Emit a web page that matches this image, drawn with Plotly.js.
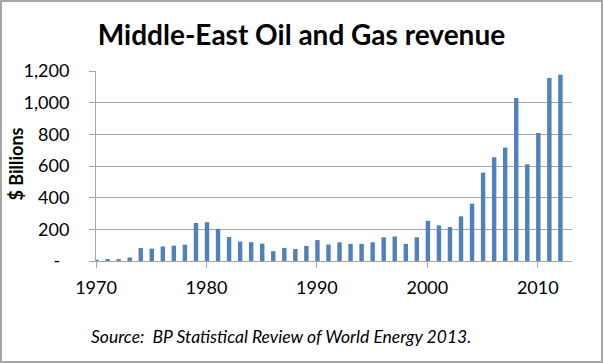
<!DOCTYPE html>
<html>
<head>
<meta charset="utf-8">
<script src="https://cdn.plot.ly/plotly-3.0.1.min.js"></script>
<style>
html,body{margin:0;padding:0;background:#fff;}
#wrap{position:relative;width:603px;height:363px;}
#chart{width:603px;height:363px;}
#frame{position:absolute;left:0;top:0;width:599px;height:359px;border:2px solid #a6a6a6;pointer-events:none;}
</style>
</head>
<body>
<div id="wrap"><div id="chart"></div><div id="frame"></div></div>
<script>
const years = [1970,1971,1972,1973,1974,1975,1976,1977,1978,1979,
  1980,1981,1982,1983,1984,1985,1986,1987,1988,1989,
  1990,1991,1992,1993,1994,1995,1996,1997,1998,1999,
  2000,2001,2002,2003,2004,2005,2006,2007,2008,2009,
  2010,2011,2012];
const revenue = [8,12,12,22,82,78,92,97,103,240,
  245,203,152,123,119,110,62,82,76,95,
  132,104,118,108,108,118,150,155,108,150,
  254,225,215,282,362,558,655,716,1030,611,
  808,1156,1177];
const yTickVals = [0,200,400,600,800,1000,1200];
const yTickText = ['-\u00a0\u00a0','200','400','600','800','1,000','1,200'];
const xTickVals = [1970,1980,1990,2000,2010];
const titleText = 'Middle-East Oil and Gas revenue';
const yTitle = '$ Billions';
const sourceText = 'Source:  BP Statistical Review of World Energy 2013.';

const font = 'Lato, "Open Sans", sans-serif';
const data = [{
  type: 'bar',
  x: years,
  y: revenue,
  width: 0.4,
  offset: -0.15,
  marker: {color: '#4f81bd', line: {width: 0}},
  hoverinfo: 'x+y'
}];
const layout = {
  width: 603, height: 363,
  margin: {l: 96, r: 31, t: 71, b: 102, pad: 0},
  paper_bgcolor: '#ffffff', plot_bgcolor: '#ffffff',
  showlegend: false,
  font: {family: font, color: '#000000', size: 18},
  title: {
    text: '<b>' + titleText + '</b>',
    font: {family: font, size: 28, color: '#000000'},
    x: 0.5, xref: 'container', xanchor: 'center',
    y: 1 - 35/363, yref: 'container', yanchor: 'middle'
  },
  xaxis: {
    range: [1970, 2013.1],
    tickvals: xTickVals,
    ticktext: xTickVals.map(String),
    ticks: 'outside', ticklen: 6, tickcolor: '#a6a6a6', tickwidth: 1,
    showline: true, linecolor: '#a6a6a6', linewidth: 1,
    showgrid: false, zeroline: false,
    ticklabelstandoff: 4,
    tickfont: {family: font, size: 18, color: '#000'},
    fixedrange: true
  },
  yaxis: {
    range: [0, 1200],
    tickvals: yTickVals,
    ticktext: yTickText,
    ticks: 'outside', ticklen: 6, tickcolor: '#a6a6a6', tickwidth: 1,
    showline: true, linecolor: '#a6a6a6', linewidth: 1,
    showgrid: true, gridcolor: '#a6a6a6', gridwidth: 1,
    zeroline: false,
    ticklabelstandoff: 16,
    tickfont: {family: font, size: 18, color: '#000'},
    fixedrange: true
  },
  annotations: [
    {
      text: '<b>' + yTitle + '</b>',
      xref: 'paper', yref: 'paper',
      x: (15.7 - 96) / 476, y: (260.7 - 163.5) / 190,
      xanchor: 'center', yanchor: 'middle',
      textangle: -90, showarrow: false,
      font: {family: font, size: 18, color: '#000'}
    },
    {
      text: '<i>' + sourceText + '</i>',
      xref: 'paper', yref: 'paper',
      x: (88.6 - 96) / 476, y: (260.7 - 336.5) / 190,
      xanchor: 'left', yanchor: 'middle',
      showarrow: false,
      font: {family: font, size: 17.5, color: '#000'}
    }
  ]
};
Plotly.newPlot('chart', data, layout, {displayModeBar: false, staticPlot: true});
</script>
</body>
</html>
